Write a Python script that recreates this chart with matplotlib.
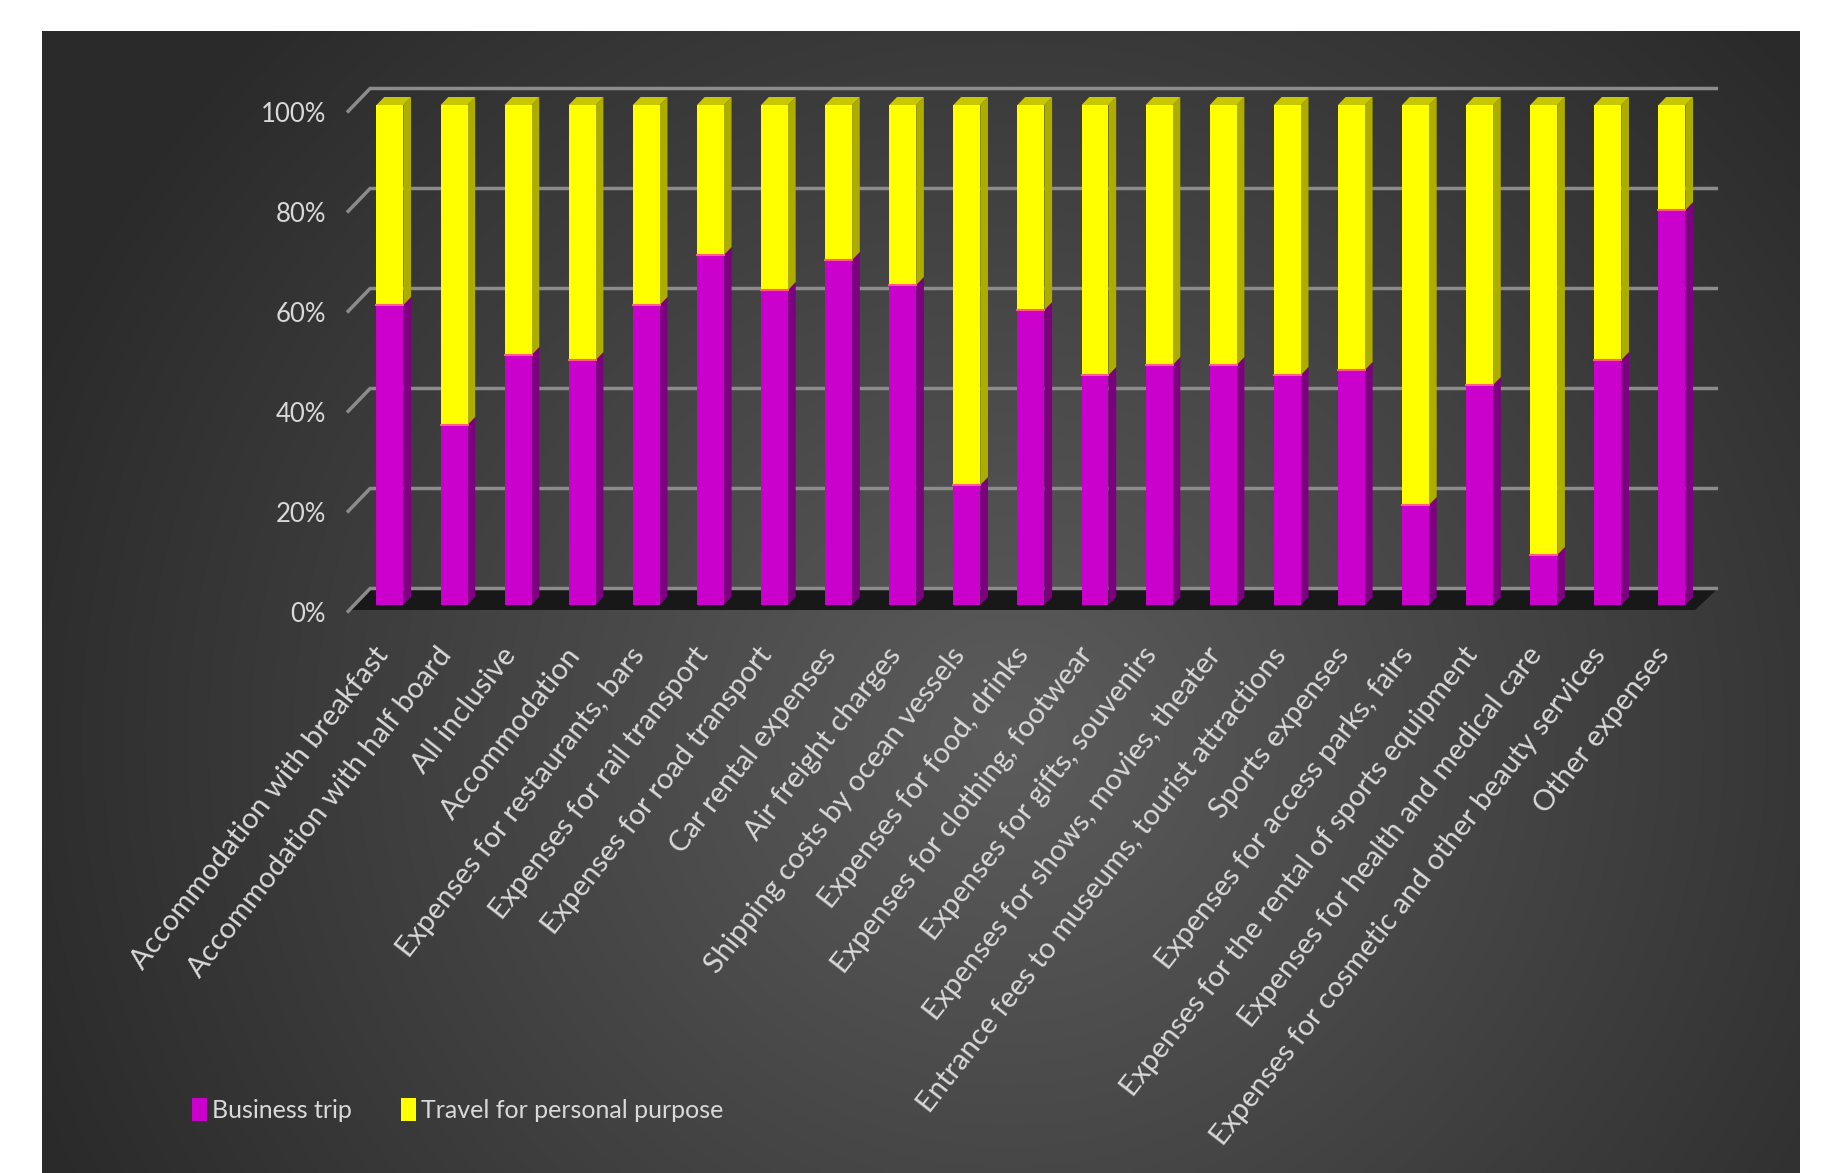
import numpy as np
import matplotlib.pyplot as plt
from matplotlib.patches import Polygon
from matplotlib.transforms import ScaledTranslation

# data (shares in %)
categories = [
    "Accommodation with breakfast",
    "Accommodation with half board",
    "All inclusive",
    "Accommodation",
    "Expenses for restaurants, bars",
    "Expenses for rail transport",
    "Expenses for road transport",
    "Car rental expenses",
    "Air freight charges",
    "Shipping costs by ocean vessels",
    "Expenses for food, drinks",
    "Expenses for clothing, footwear",
    "Expenses for gifts, souvenirs",
    "Expenses for shows, movies, theater",
    "Entrance fees to museums, tourist attractions",
    "Sports expenses",
    "Expenses for access parks, fairs",
    "Expenses for the rental of sports equipment",
    "Expenses for health and medical care",
    "Expenses for cosmetic and other beauty services",
    "Other expenses",
]
business = [60, 36, 50, 49, 60, 70, 63, 69, 64, 24, 59, 46, 48, 48, 46, 47, 20, 44, 10, 49, 79]
personal = [40, 64, 50, 51, 40, 30, 37, 31, 36, 76, 41, 54, 52, 52, 54, 53, 80, 56, 90, 51, 21]
series_names = ["Business trip", "Travel for personal purpose"]
yticks = [0, 20, 40, 60, 80, 100]
ytick_labels = ["0%", "20%", "40%", "60%", "80%", "100%"]

FONT = ["Lato", "DejaVu Sans"]
plt.rcParams["font.family"] = FONT
TXT = "#d9d9d9"

W, H = 1826, 1173
fig = plt.figure(figsize=(W / 100, H / 100), dpi=100, facecolor="white")

# dark panel with radial gradient
bg = fig.add_axes([42 / W, 0, (1799 - 42) / W, (H - 31) / H])
gx, gy = np.meshgrid(np.linspace(0, 1, 400), np.linspace(0, 1, 300))
r = np.sqrt(((gx - 0.55) / 0.6) ** 2 + ((gy - 0.62) / 0.9) ** 2)
r = np.clip(r, 0, 1)
shade = 0.36 - (0.36 - 0.165) * r
bg.imshow(np.dstack([shade] * 3), aspect="auto", extent=[0, 1, 0, 1], interpolation="bilinear")
bg.axis("off")

# main axes (front plane of the 3D box)
x0, x1 = -0.67, 20.36
ax = fig.add_axes([347 / W, (H - 605) / H, (1695 - 347) / W, (605 - 105) / H])
ax.set_facecolor("none")
ax.set_xlim(x0, x1)
ax.set_ylim(0, 100)

dx, dy = 0.36, 3.3      # wall depth
bdx, bdy = 0.12, 1.6    # bar depth
w = 0.42
grid_c = "#8c8c8c"

# floor
ax.add_patch(Polygon([(x0, -1.0), (x1, -1.0), (x1 + dx, dy), (x0 + dx, dy)],
                     closed=True, fc="#181818", ec="none", zorder=1, clip_on=False))

# back wall gridlines
for t in yticks:
    ax.plot([x0, x0 + dx, x1 + dx], [t - 1.5, t + dy, t + dy], color=grid_c, lw=2.5,
            zorder=2, clip_on=False, solid_capstyle="butt")

x = np.arange(len(categories))
ax.bar(x, business, width=w, color="#cc00cc", zorder=4, label=series_names[0])
ax.bar(x, personal, width=w, bottom=business, color="#ffff00", zorder=4, label=series_names[1])

for i, (b, p) in enumerate(zip(business, personal)):
    xr = i + w / 2
    ax.add_patch(Polygon([(xr, 0), (xr + bdx, bdy), (xr + bdx, b + bdy), (xr, b)],
                         fc="#7c0080", ec="none", zorder=3, clip_on=False))
    ax.add_patch(Polygon([(xr, b), (xr + bdx, b + bdy), (xr + bdx, b + p + bdy), (xr, b + p)],
                         fc="#adad00", ec="none", zorder=3, clip_on=False))
    top = b + p
    ax.add_patch(Polygon([(i - w / 2, top), (xr, top), (xr + bdx, top + bdy), (i - w / 2 + bdx, top + bdy)],
                         fc="#c8c800", ec="none", zorder=5, clip_on=False))
    ax.plot([i - w / 2, xr], [b, b], color="#ff5c8a", lw=1.5, zorder=6)
    ax.text(i + 0.05, -7.5, categories[i], rotation=52, ha="right", va="top",
            color=TXT, fontsize=21)

for s in ax.spines.values():
    s.set_visible(False)
ax.set_xticks([])
ax.set_yticks(yticks)
ax.set_yticklabels(ytick_labels)
ax.tick_params(axis="y", length=0, pad=15, labelsize=18.5, labelcolor=TXT)
shift = ScaledTranslation(0, -7 / 100, fig.dpi_scale_trans)
for lab in ax.get_yticklabels():
    lab.set_transform(lab.get_transform() + shift)

fig.legend(loc="center left", bbox_to_anchor=(169 / W, 1 - 1110 / H), ncol=2, frameon=False,
           handlelength=0.6, handleheight=1.0, handletextpad=0.2, columnspacing=2.0,
           fontsize=18, labelcolor=TXT)

fig.savefig("out.png", dpi=100, facecolor="white")
